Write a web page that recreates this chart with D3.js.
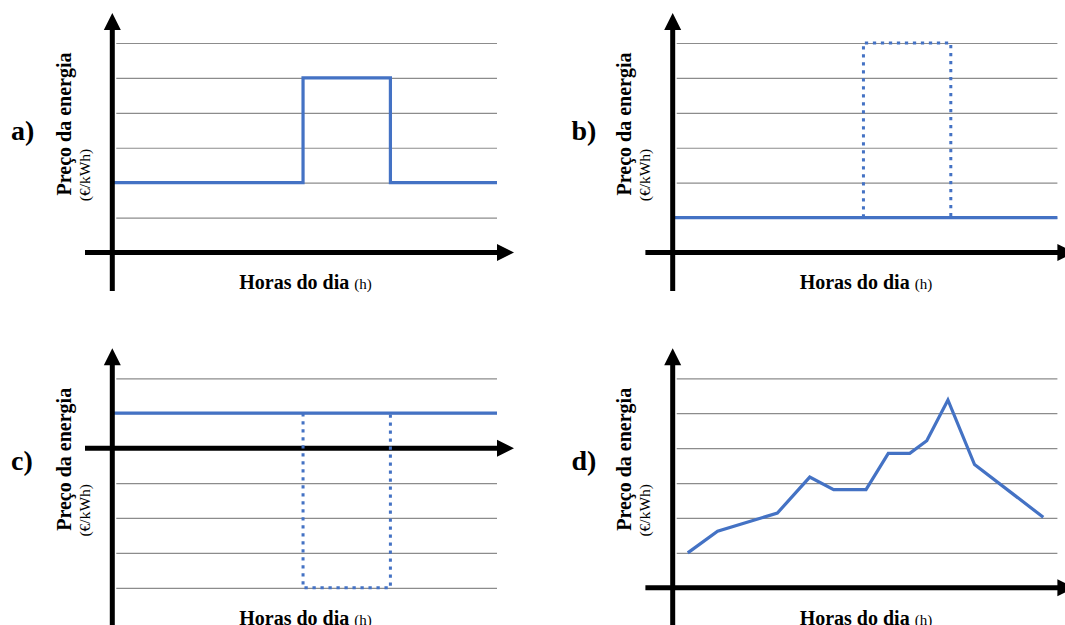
<!DOCTYPE html>
<html>
<head>
<meta charset="utf-8">
<script src="https://cdn.jsdelivr.net/npm/d3@7"></script>
<style>
  body { margin: 0; background: #fff; }
  svg { display: block; }
  text { font-family: 'Liberation Serif', 'Times New Roman', Times, 'Nimbus Roman', 'Nimbus Roman No9 L', 'FreeSerif', 'Noto Serif', 'DejaVu Serif', Tinos, Georgia, serif; }
</style>
</head>
<body>
<div id="chart"></div>
<script>
const width = 1065;
const height = 625;

// Texts
const panelLabels = ['a)', 'b)', 'c)', 'd)'];
const yTitle = 'Preço da energia';
const yUnit = '(€/kWh)';
const xTitle = 'Horas do dia';
const xUnit = '(h)';

// Grid levels (price levels, arbitrary units)
const gridLevelsUp = [1, 2, 3, 4, 5, 6];
const gridLevelsC = [-4, -3, -2, -1, 1, 2];

// a) two-tier tariff
const tariffAHours = [0, 11.9, 11.9, 17.35, 17.35, 24];
const tariffAPrice = [2, 2, 5, 5, 2, 2];

// b) flat price + critical peak (dotted)
const tariffBHours = [0, 24];
const tariffBPrice = [1, 1];
const peakBHours = [11.9, 11.9, 17.35, 17.35];
const peakBPrice = [1, 6, 6, 1];

// c) flat price + peak rebate (dotted, below zero)
const tariffCHours = [0, 24];
const tariffCPrice = [1, 1];
const peakCHours = [11.9, 11.9, 17.35, 17.35];
const peakCPrice = [1, -4, -4, 1];

// d) real-time price
const dynHours = [0.94, 2.8, 6.53, 8.55, 10.04, 12.06, 13.45, 14.79, 15.85, 17.17, 18.83, 23.12];
const dynPrice = [1.0, 1.62, 2.14, 3.17, 2.81, 2.81, 3.85, 3.85, 4.21, 5.38, 3.53, 2.02];

const blue = '#4472c4';
const dx = 560.4;
const dy = 335.3;

const svg = d3.select('#chart')
  .append('svg')
  .attr('width', width)
  .attr('height', height);

const zip = (xs, ys) => xs.map((h, i) => ({ h: h, p: ys[i] }));

const panels = [
  { label: panelLabels[0], ox: 0, oy: 0, labelY: 140, domain: [0, 6], grid: gridLevelsUp,
    solid: [zip(tariffAHours, tariffAPrice)], dotted: [] },
  { label: panelLabels[1], ox: dx, oy: 0, labelY: 140, domain: [0, 6], grid: gridLevelsUp,
    solid: [zip(tariffBHours, tariffBPrice)], dotted: [zip(peakBHours, peakBPrice)] },
  { label: panelLabels[2], ox: 0, oy: dy, labelY: 135, domain: [-4, 2], grid: gridLevelsC,
    solid: [zip(tariffCHours, tariffCPrice)], dotted: [zip(peakCHours, peakCPrice)] },
  { label: panelLabels[3], ox: dx, oy: dy, labelY: 135, domain: [0, 6], grid: gridLevelsUp,
    solid: [zip(dynHours, dynPrice)], dotted: [] }
];

panels.forEach(p => {
  const g = svg.append('g').attr('transform', `translate(${p.ox},${p.oy})`);

  const x = d3.scaleLinear().domain([0, 24]).range([112.3, 497]);
  const y = d3.scaleLinear().domain(p.domain).range([252.5, 43]);
  const x0 = x(0);
  const y0 = y(0);

  // gridlines through an axis
  const grid = g.append('g')
    .attr('transform', `translate(${x(24)},0)`)
    .call(d3.axisLeft(y).tickValues(p.grid).tickSize(x(24) - x0 - 4).tickFormat(''));
  grid.select('.domain').remove();
  grid.selectAll('line').attr('stroke', '#8c8c8c').attr('stroke-width', 1.2);

  // x axis arrow
  g.append('line')
    .attr('x1', 85).attr('x2', x(24) + 2)
    .attr('y1', y0).attr('y2', y0)
    .attr('stroke', '#000').attr('stroke-width', 5);
  g.append('path')
    .attr('d', `M${x(24)},${y0 - 8.5}L${x(24) + 17},${y0}L${x(24)},${y0 + 8.5}Z`)
    .attr('fill', '#000');

  const line = d3.line().x(d => x(d.h)).y(d => y(d.p));

  p.solid.forEach(s => {
    g.append('path')
      .attr('d', line(s))
      .attr('fill', 'none')
      .attr('stroke', blue)
      .attr('stroke-width', 3.2)
      .attr('stroke-linejoin', 'miter');
  });
  p.dotted.forEach(s => {
    g.append('path')
      .attr('d', line(s))
      .attr('fill', 'none')
      .attr('stroke', blue)
      .attr('stroke-width', 3)
      .attr('stroke-dasharray', '3.3,4.7');
  });

  // y axis arrow
  g.append('line')
    .attr('x1', x0).attr('x2', x0)
    .attr('y1', 291).attr('y2', 28)
    .attr('stroke', '#000').attr('stroke-width', 5);
  g.append('path')
    .attr('d', `M${x0 - 8.5},30L${x0},13L${x0 + 8.5},30Z`)
    .attr('fill', '#000');

  // panel letter
  g.append('text')
    .attr('x', 11)
    .attr('y', p.labelY)
    .attr('font-weight', 'bold')
    .attr('font-size', 28)
    .text(p.label);

  // y title
  g.append('text')
    .attr('transform', 'translate(71,124) rotate(-90)')
    .attr('text-anchor', 'middle')
    .attr('font-weight', 'bold')
    .attr('font-size', 20)
    .text(yTitle);
  g.append('text')
    .attr('transform', 'translate(90,175) rotate(-90)')
    .attr('text-anchor', 'middle')
    .attr('font-size', 15.5)
    .text(yUnit);

  // x title
  const xt = g.append('text')
    .attr('x', 305.5)
    .attr('y', 289.3)
    .attr('text-anchor', 'middle');
  xt.append('tspan').attr('font-weight', 'bold').attr('font-size', 20).text(xTitle + ' ');
  xt.append('tspan').attr('font-size', 15).text(xUnit);
});
</script>
</body>
</html>
